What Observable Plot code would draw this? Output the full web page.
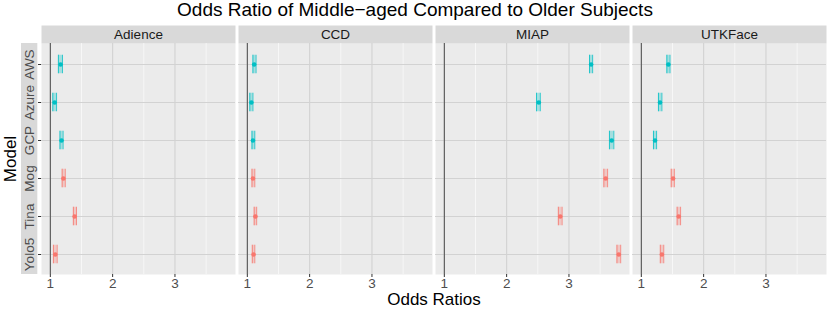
<!DOCTYPE html>
<html><head><meta charset="utf-8">
<script src="https://cdn.jsdelivr.net/npm/d3@7"></script>
<script src="https://cdn.jsdelivr.net/npm/@observablehq/plot@0.6"></script>
<style>
body{margin:0;background:#fff;font-family:"Liberation Sans",Arial,sans-serif;}
#wrap{position:relative;width:830px;height:311px;overflow:hidden;background:#fff;}
#title{position:absolute;left:0;top:0;width:830px;text-align:center;font-size:19px;line-height:20px;color:#000;}
#chart{position:absolute;left:0;top:25px;}
#xlab{position:absolute;left:40px;width:788px;top:291px;text-align:center;font-size:17px;line-height:17px;color:#000;}
#ylab{position:absolute;left:10px;top:158.5px;transform:translate(-50%,-50%) rotate(-90deg);font-size:17px;line-height:17px;white-space:nowrap;color:#000;}
</style></head>
<body><div id="wrap"><div id="title"></div><div id="chart"></div><div id="xlab"></div><div id="ylab"></div></div>
<script>
// ---- text ----
const titleText = "Odds Ratio of Middle\u2212aged Compared to Older Subjects";
const xTitle = "Odds Ratios";
const yTitle = "Model";

// ---- categories ----
const datasets = ["Adience", "CCD", "MIAP", "UTKFace"];
const models = ["AWS", "Azure", "GCP", "Mog", "Tina", "Yolo5"];
const modelGroup = ["A", "A", "A", "B", "B", "B"];
const groupColors = ["#00BFC4", "#F8766D"];

// ---- tick labels ----
const xTicks = [1, 2, 3];
const xMinorTicks = [1.5, 2.5, 3.5];
const refValue = 1;

// ---- values (odds ratio, lower CI, upper CI), in model order ----
const adienceOR = [1.165, 1.07, 1.18, 1.21, 1.39, 1.08];
const adienceLo = [1.13, 1.04, 1.155, 1.19, 1.37, 1.05];
const adienceHi = [1.195, 1.10, 1.205, 1.24, 1.42, 1.11];

const ccdOR = [1.11, 1.065, 1.09, 1.09, 1.13, 1.10];
const ccdLo = [1.09, 1.04, 1.075, 1.075, 1.11, 1.08];
const ccdHi = [1.14, 1.09, 1.12, 1.12, 1.15, 1.12];

const miapOR = [3.356, 2.516, 3.686, 3.59, 2.86, 3.80];
const miapLo = [3.33, 2.48, 3.65, 3.56, 2.83, 3.77];
const miapHi = [3.38, 2.54, 3.72, 3.62, 2.89, 3.83];

const utkOR = [1.434, 1.30, 1.22, 1.51, 1.60, 1.33];
const utkLo = [1.41, 1.275, 1.195, 1.48, 1.575, 1.305];
const utkHi = [1.46, 1.33, 1.245, 1.53, 1.63, 1.36];

const orByDataset = [adienceOR, ccdOR, miapOR, utkOR];
const loByDataset = [adienceLo, ccdLo, miapLo, utkLo];
const hiByDataset = [adienceHi, ccdHi, miapHi, utkHi];

// ---- build table ----
const rows = [];
datasets.forEach((ds, i) => {
  models.forEach((m, j) => {
    rows.push({dataset: ds, model: m, group: modelGroup[j],
      or: orByDataset[i][j], lo: loByDataset[i][j], hi: hiByDataset[i][j]});
  });
});

// x domain: ggplot-style 5% expansion of the data range (incl. reference line)
const allX = [refValue, ...rows.map(d => d.lo), ...rows.map(d => d.hi)];
const [xmin, xmax] = d3.extent(allX);
const ex = (xmax - xmin) * 0.05;

// ---- layout ----
const W = 830, H = 264, mL = 40, mR = 2, mT = 18, mB = 15;
const gap = 2.7;
const step = (W - mL - mR + gap) / datasets.length;
const pInner = gap / step;
const bw = step - gap;
const plotH = H - mT - mB;
const capInset = (plotH / models.length - 19) / 2;

document.getElementById("title").textContent = titleText;
document.getElementById("xlab").textContent = xTitle;
document.getElementById("ylab").textContent = yTitle;

const chart = Plot.plot({
  width: W, height: H,
  marginLeft: mL, marginRight: mR, marginTop: mT, marginBottom: mB,
  style: {fontFamily: "Liberation Sans, Arial, sans-serif", fontSize: "13.5px", background: "transparent", overflow: "visible"},
  fx: {domain: datasets, paddingInner: pInner, paddingOuter: 0, axis: null, label: null},
  x: {domain: [xmin - ex, xmax + ex], label: null},
  y: {type: "band", domain: models, paddingInner: 0, paddingOuter: 0, label: null},
  color: {domain: ["A", "B"], range: groupColors},
  marks: [
    // panel background
    Plot.frame({fill: "#EBEBEB", stroke: "none"}),
    // strip backgrounds
    Plot.frame({fill: "#D9D9D9", stroke: "none", insetTop: -mT, insetBottom: plotH}),
    // grey box behind y labels (left facet only)
    Plot.rect([datasets[0]], {fx: d => d, fill: "#D9D9D9", insetLeft: -20, insetRight: bw + 2.7}),
    // grids
    Plot.gridX({ticks: xMinorTicks, stroke: "#FFFFFF", strokeOpacity: 1, strokeWidth: 0.6}),
    Plot.gridX({ticks: xTicks, stroke: "#D2D2D2", strokeOpacity: 1, strokeWidth: 1.1}),
    Plot.gridY({stroke: "#D2D2D2", strokeOpacity: 1, strokeWidth: 1.1}),
    // reference line
    Plot.ruleX([refValue], {stroke: "#3A3A3A", strokeWidth: 0.9}),
    // error bars
    Plot.barX(rows, {fx: "dataset", y: "model", x1: "lo", x2: "hi", fill: "group", fillOpacity: 0.3,
      insetTop: capInset, insetBottom: capInset}),
    Plot.tickX(rows, {fx: "dataset", y: "model", x: "lo", stroke: "group", strokeOpacity: 0.8, strokeWidth: 1,
      insetTop: capInset, insetBottom: capInset}),
    Plot.tickX(rows, {fx: "dataset", y: "model", x: "hi", stroke: "group", strokeOpacity: 0.8, strokeWidth: 1,
      insetTop: capInset, insetBottom: capInset}),
    // points
    Plot.dot(rows, {fx: "dataset", y: "model", x: "or", fill: "group", r: 2.3, stroke: "none"}),
    // strip labels
    Plot.text(datasets, {fx: d => d, text: d => d, frameAnchor: "top", dy: -mT / 2, lineAnchor: "middle",
      fontSize: 13.5, fill: "#1A1A1A"}),
    // y axis ticks
    Plot.axisY({tickSize: 3, tickFormat: () => "", label: null, stroke: "#333333"}),
    // y labels (rotated)
    Plot.text(models, {fx: () => datasets[0], y: d => d, text: d => d, frameAnchor: "left", dx: -11.5,
      rotate: -90, textAnchor: "middle", lineAnchor: "middle", fontSize: 13.5, fill: "#4D4D4D"}),
    // x axis
    Plot.axisX({ticks: xTicks, tickFormat: d3.format("d"), tickSize: 3, tickPadding: 1, fontSize: 13.5, label: null,
      stroke: "#333333", fill: "#4D4D4D"})
  ]
});
document.getElementById("chart").appendChild(chart);
</script>
</body></html>
